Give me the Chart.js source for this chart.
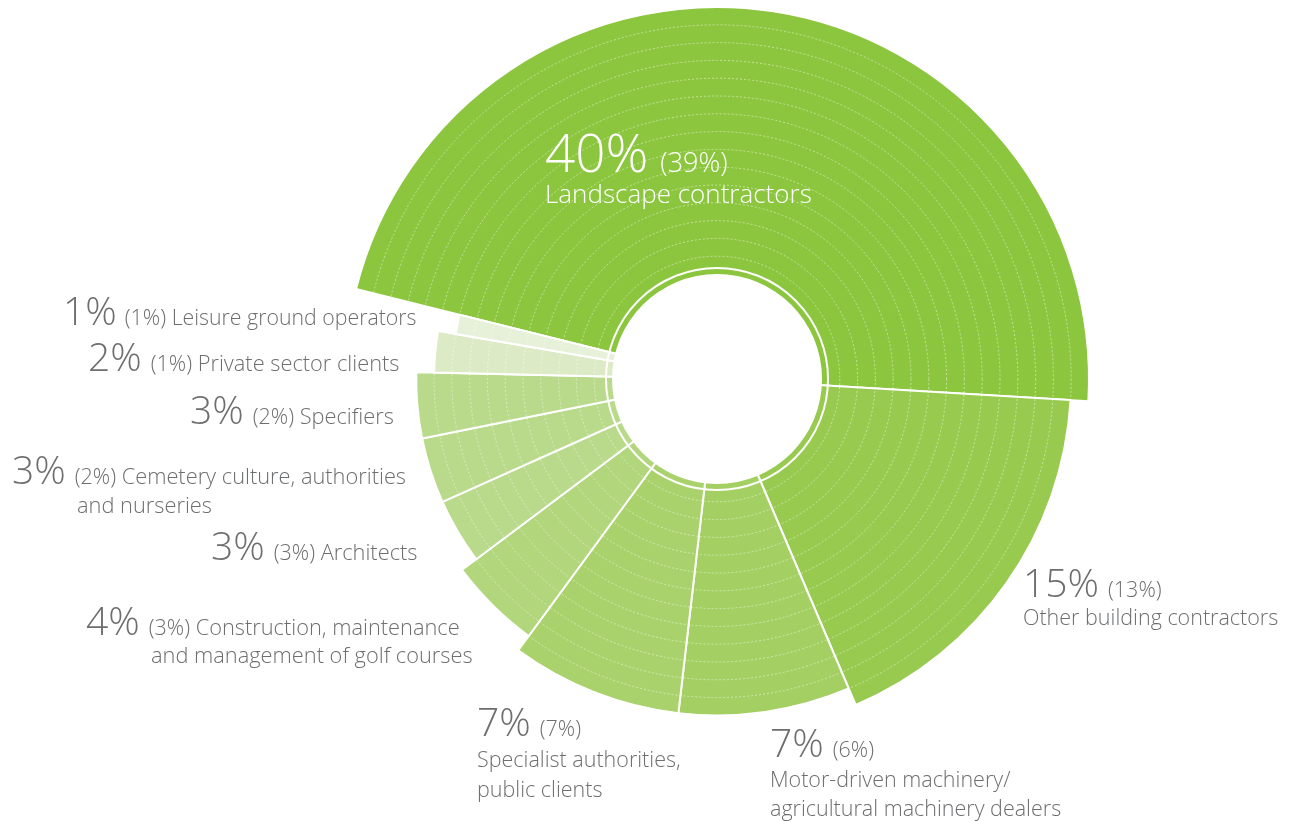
<!DOCTYPE html>
<html>
<head>
<meta charset="utf-8">
<title>Customer groups</title>
<script src="https://cdn.jsdelivr.net/npm/chart.js@4/dist/chart.umd.min.js"></script>
<style>
  html, body { margin: 0; padding: 0; background: #ffffff; }
  #wrap { position: relative; width: 1296px; height: 822px; }
</style>
</head>
<body>
<div id="wrap"><canvas id="customerChart"></canvas></div>
<script>
// Customer groups, clockwise from the largest one
const segmentLabels = [
  'Landscape contractors',
  'Other building contractors',
  'Motor-driven machinery/\nagricultural machinery dealers',
  'Specialist authorities,\npublic clients',
  'Construction, maintenance\nand management of golf courses',
  'Architects',
  'Cemetery culture, authorities\nand nurseries',
  'Specifiers',
  'Private sector clients',
  'Leisure ground operators'
];
// share this year (drives the slice angle) and last year (in brackets)
const shareCurrent = [40, 15, 7, 7, 4, 3, 3, 3, 2, 1];
const sharePrevious = [39, 13, 6, 7, 3, 3, 2, 2, 1, 1];
// ring level reached by each slice (drives the slice radius)
const ringLevel = [15, 14, 13, 13, 12, 11, 11, 11, 10, 9];
// concentric guide rings
const ringTicks = [1, 2, 3, 4, 5, 6, 7, 8, 9, 10, 11, 12, 13, 14];

const segmentColors = [
  '#8cc63f', '#98ca4f', '#a4cf62', '#aad26c', '#b1d67b',
  '#b9da8b', '#b9da8b', '#b9da8b', '#dcebc6', '#e7f1d9'
];

const totalShare = shareCurrent.reduce((a, b) => a + b, 0);
const GREY = '#6d6e70';
const FONT = '"Open Sans", "Noto Sans", sans-serif';

// where each caption sits; inline = first name line follows the numbers
const captionLayout = [
  { x: 545, y: 172, big: 53, small: 27, text: 26, gap: 12, inline: false, lineX: 545, lead: 31, color: '#ffffff' },
  { x: 1023, y: 597, big: 39, small: 21.5, text: 21.5, gap: 9, inline: false, lineX: 1023, lead: 28 },
  { x: 770, y: 757, big: 39, small: 21.5, text: 21.5, gap: 9, inline: false, lineX: 770, lead: 29.5 },
  { x: 477, y: 736, big: 39, small: 21.5, text: 21.5, gap: 9, inline: false, lineX: 477, lead: 30.5 },
  { x: 86, y: 635, big: 39, small: 21.5, text: 21.8, gap: 9, inline: true, lineX: 151, lead: 28 },
  { x: 211, y: 560, big: 39, small: 21.5, text: 21.8, gap: 9, inline: true },
  { x: 12, y: 484, big: 39, small: 21.5, text: 21.8, gap: 9, inline: true, lineX: 77, lead: 28.5 },
  { x: 190, y: 424, big: 39, small: 21.5, text: 21.8, gap: 9, inline: true },
  { x: 88, y: 371, big: 39, small: 21.5, text: 21.8, gap: 9, inline: true },
  { x: 63, y: 325, big: 39, small: 21.5, text: 21.3, gap: 8, inline: true }
];

// white hole in the middle plus the thin ring around it
const centerHole = {
  id: 'centerHole',
  afterDatasetsDraw(chart) {
    const r = chart.scales.r;
    const ctx = chart.ctx;
    const hole = r.getDistanceFromCenterForValue(0);
    ctx.save();
    ctx.fillStyle = '#ffffff';
    ctx.beginPath();
    ctx.arc(r.xCenter, r.yCenter, hole, 0, Math.PI * 2);
    ctx.fill();
    ctx.strokeStyle = '#ffffff';
    ctx.lineWidth = 2;
    ctx.beginPath();
    ctx.arc(r.xCenter, r.yCenter, hole + 6, 0, Math.PI * 2);
    ctx.stroke();
    ctx.restore();
  }
};

const captions = {
  id: 'captions',
  afterDraw(chart) {
    const ctx = chart.ctx;
    ctx.save();
    ctx.textBaseline = 'alphabetic';
    ctx.textAlign = 'left';
    captionLayout.forEach((c, i) => {
      ctx.fillStyle = c.color || GREY;
      const big = shareCurrent[i] + '%';
      const prev = '(' + sharePrevious[i] + '%)';
      const lines = segmentLabels[i].split('\n');

      ctx.font = `300 ${c.big}px ${FONT}`;
      ctx.fillText(big, c.x, c.y);
      let x = c.x + ctx.measureText(big).width + c.gap;

      ctx.font = `300 ${c.small}px ${FONT}`;
      ctx.fillText(prev, x, c.y);
      x += ctx.measureText(prev + ' ').width;

      ctx.font = `300 ${c.text}px ${FONT}`;
      let y = c.y;
      if (c.inline) {
        ctx.fillText(lines.shift(), x, y);
      }
      lines.forEach(line => {
        y += c.lead;
        ctx.fillText(line, c.lineX, y);
      });
    });
    ctx.restore();
  }
};

const ctx = document.getElementById('customerChart').getContext('2d');

new Chart(ctx, {
  type: 'polarArea',
  data: {
    labels: segmentLabels,
    datasets: [{
      data: ringLevel,
      backgroundColor: segmentColors,
      borderColor: '#ffffff',
      borderWidth: 2,
      angle: (c) => shareCurrent[c.dataIndex] / totalShare * 360
    }]
  },
  options: {
    responsive: true,
    maintainAspectRatio: false,
    animation: false,
    events: [],
    layout: {
      padding: { left: 138, right: 0, top: 7, bottom: 71 }
    },
    plugins: {
      legend: { display: false },
      tooltip: { enabled: false }
    },
    scales: {
      r: {
        min: -5.9,
        max: 15,
        startAngle: -76,
        afterBuildTicks: (scale) => {
          scale.ticks = ringTicks.map(v => ({ value: v }));
        },
        ticks: { display: false },
        grid: {
          z: 1,
          circular: true,
          color: 'rgba(255,255,255,0.45)',
          lineWidth: 1
        },
        border: { dash: [2, 2] },
        angleLines: { display: false },
        pointLabels: { display: false }
      }
    }
  },
  plugins: [centerHole, captions]
});
</script>
</body>
</html>
